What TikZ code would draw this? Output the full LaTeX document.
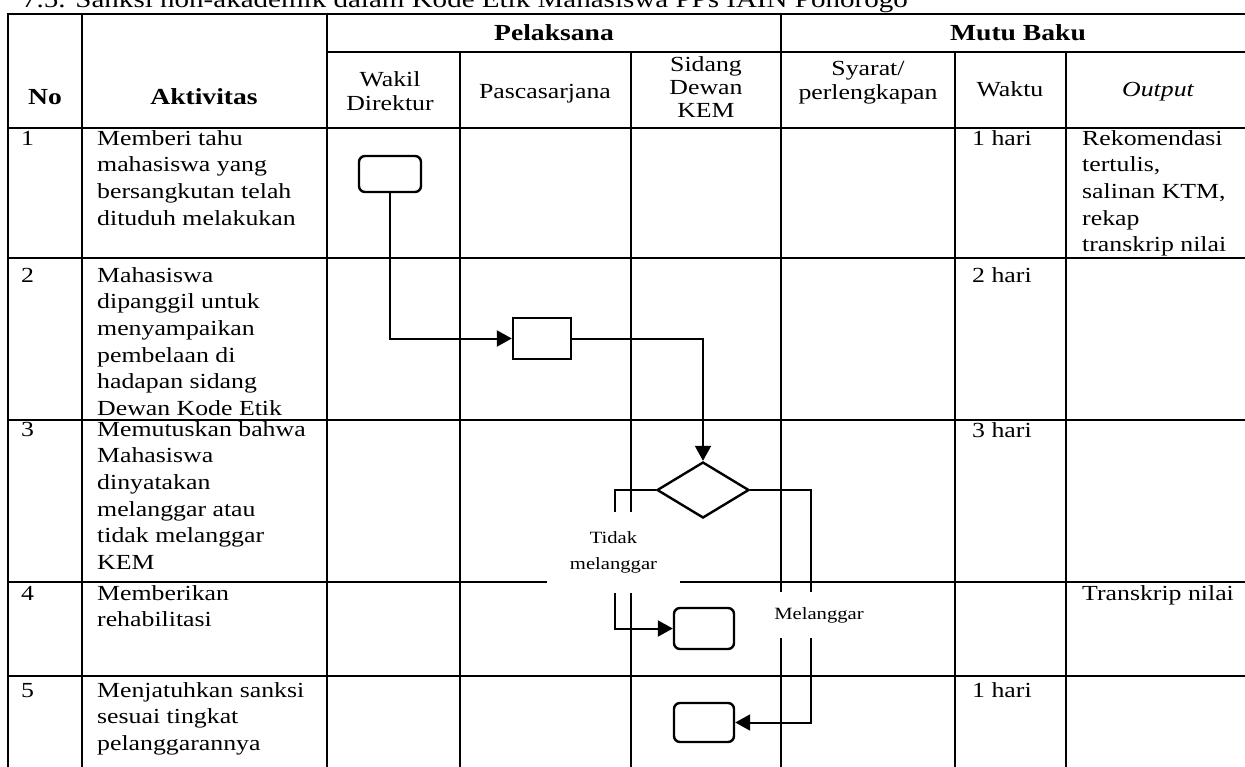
\documentclass[tikz,border=0pt]{standalone}
\usepackage{fontspec}
\setmainfont{Liberation Serif}[FakeStretch=1.2]
\usetikzlibrary{arrows.meta,shapes.geometric}
\newcommand\myCellL[1]{\begin{tabular}[t]{@{}l@{}}#1\end{tabular}}
\newcommand\myCellC[1]{\begin{tabular}[t]{@{}c@{}}#1\end{tabular}}
\begin{document}
\begin{tikzpicture}[x=1pt,y=-1pt,
  tline/.style={line width=2pt, line cap=rect},
  conn/.style={line width=2pt, -{Triangle[length=15pt,width=16pt]}},
  rbox/.style={draw, line width=2.4pt, rounded corners=6pt, fill=white, inner sep=0pt},
  sbox/.style={draw, line width=2.4pt, fill=white, inner sep=0pt},
  dec/.style={draw, diamond, line width=2.4pt, fill=white, inner sep=0pt},
  body/.style={anchor=base west, inner sep=0pt, font=\fontsize{21.5}{26.7}\selectfont},
  hb/.style={anchor=base, inner sep=0pt, font=\bfseries\fontsize{23}{26}\selectfont},
  hn/.style={anchor=base, inner sep=0pt, font=\fontsize{21.5}{24}\selectfont},
  lbl/.style={fill=white, inner sep=0pt, align=center, font=\fontsize{17.2}{26}\selectfont}]
\useasboundingbox (0,0) rectangle (1245,766);

% title (cut at top)
\node[anchor=base west, inner sep=0pt, font=\fontsize{24.2}{27}\selectfont] (title) at (22,7.5)
  {7.5. Sanksi non-akademik dalam Kode Etik Mahasiswa PPs IAIN Ponorogo};

% table grid
\draw[tline] (8,14) -- (1245,14);
\draw[tline] (327,52) -- (1245,52);
\draw[tline] (8,128) -- (1245,128);
\draw[tline] (8,258) -- (1245,258);
\draw[tline] (8,420) -- (1245,420);
\draw[tline] (8,582) -- (1245,582);
\draw[tline] (8,676) -- (1245,676);
\draw[tline] (8,14) -- (8,766);
\draw[tline] (82,14) -- (82,766);
\draw[tline] (327,14) -- (327,766);
\draw[tline] (460,52) -- (460,766);
\draw[tline] (631,52) -- (631,766);
\draw[tline] (781,14) -- (781,766);
\draw[tline] (955,52) -- (955,766);
\draw[tline] (1066,52) -- (1066,766);

% header
\node[hb] (hpel) at (554,40) {Pelaksana};
\node[hb] (hmb) at (1018,40) {Mutu Baku};
\node[hb] (hno) at (45,104) {No};
\node[hb] (hakt) at (204,104) {Aktivitas};
\node[hn] (hwd) at (390,86) {\myCellC{Wakil\\Direktur}};
\node[hn] (hps) at (545,98) {Pascasarjana};
\node[hn, font=\fontsize{21.5}{23}\selectfont] (hsd) at (706,71) {\myCellC{Sidang\\Dewan\\KEM}};
\node[hn] (hsy) at (868,75) {\myCellC{Syarat/\\perlengkapan}};
\node[hn] (hwk) at (1010,96) {Waktu};
\node[hn, font=\itshape\fontsize{21.5}{24}\selectfont] (hout) at (1158,96) {Output};

% row 1
\node[body] (n1) at (21,145) {1};
\node[body] (a1) at (97,145) {\myCellL{Memberi tahu\\mahasiswa yang\\bersangkutan telah\\dituduh melakukan}};
\node[body] (w1) at (972,145) {1 hari};
\node[body] (o1) at (1082,145) {\myCellL{Rekomendasi\\tertulis,\\salinan KTM,\\rekap\\transkrip nilai}};
% row 2
\node[body] (n2) at (21,282) {2};
\node[body] (a2) at (97,282) {\myCellL{Mahasiswa\\dipanggil untuk\\menyampaikan\\pembelaan di\\hadapan sidang\\Dewan Kode Etik}};
\node[body] (w2) at (972,282) {2 hari};
% row 3
\node[body] (n3) at (21,436) {3};
\node[body] (a3) at (97,436) {\myCellL{Memutuskan bahwa\\Mahasiswa\\dinyatakan\\melanggar atau\\tidak melanggar\\KEM}};
\node[body] (w3) at (972,437) {3 hari};
% row 4
\node[body] (n4) at (21,600) {4};
\node[body] (a4) at (97,600) {\myCellL{Memberikan\\rehabilitasi}};
\node[body] (o4) at (1082,600) {Transkrip nilai};
% row 5
\node[body] (n5) at (21,697) {5};
\node[body] (a5) at (97,697) {\myCellL{Menjatuhkan sanksi\\sesuai tingkat\\pelanggarannya}};
\node[body] (w5) at (972,697) {1 hari};

% flow shapes
\node[rbox, minimum width=62pt, minimum height=36pt] (b1) at (390,174) {};
\node[sbox, minimum width=58pt, minimum height=41pt] (b2) at (542,338.5) {};
\node[dec, minimum width=92pt, minimum height=56pt] (d) at (703,490) {};
\node[rbox, minimum width=60pt, minimum height=41pt] (b4) at (704,628.5) {};
\node[rbox, minimum width=60pt, minimum height=39pt] (b5) at (704,722.5) {};

% connectors
\coordinate (tl) at (615,490);
\coordinate (tr) at (811,490);
\draw[conn] (b1.south) |- (b2.west);
\draw[conn] (b2.east) -| (d.north);
\draw[conn] (d.west) -- (tl) |- (b4.west);
\draw[conn] (d.east) -- (tr) |- (b5.east);

% branch labels (white background cuts lines)
\node[lbl, minimum width=133pt, minimum height=81pt] (ltm) at (613.5,552.5) {Tidak\\melanggar};
\node[lbl, minimum width=106pt, minimum height=46pt] (lm) at (819,615) {Melanggar};
\end{tikzpicture}
\end{document}
